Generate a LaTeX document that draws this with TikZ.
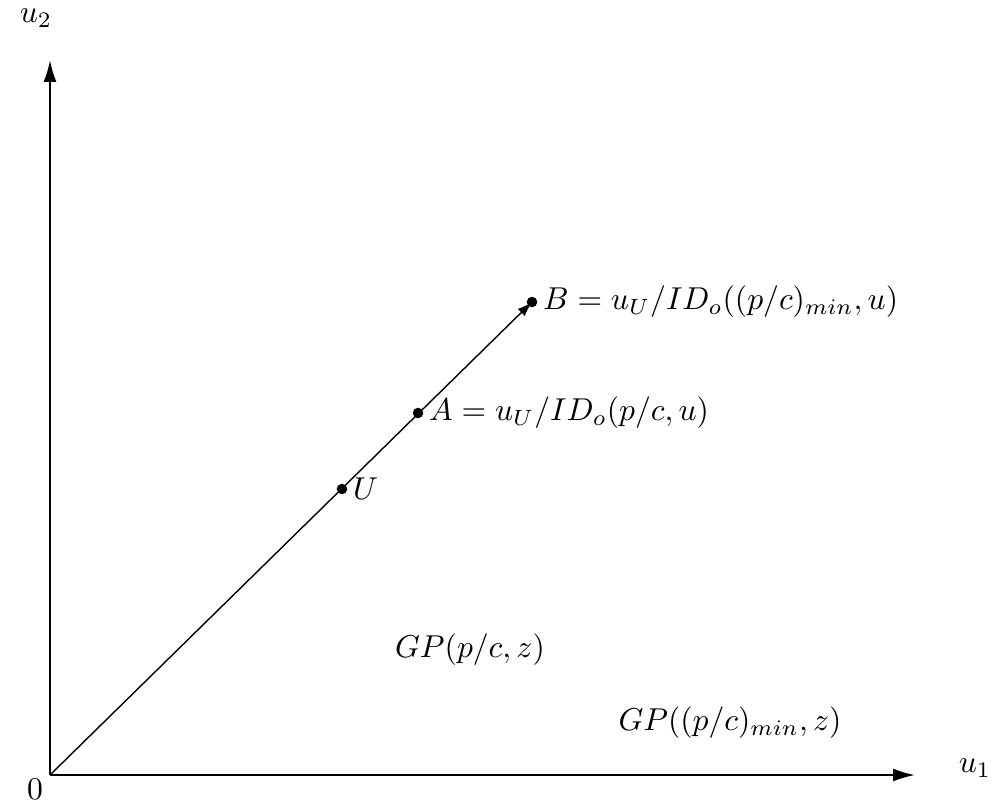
\documentclass[tikz,border=0pt]{standalone}
\usepackage{amsmath,amssymb}
\usetikzlibrary{arrows.meta,calc}

\begin{document}
\begin{tikzpicture}[>={Latex[length=2.2mm,width=1.3mm]},every node/.style={scale=0.9}]
\useasboundingbox (-0.5,-0.3) rectangle (9.53,7.75);

\coordinate (O) at (0,0);
\coordinate (Ytop) at (0,7.15);
\coordinate (Xend) at (8.65,0);
\coordinate (U) at (2.92,2.86);
\coordinate (A) at (3.68,3.62);
\coordinate (B) at (4.82,4.73);

\draw[->,semithick] (O) -- (Ytop);
\draw[->,semithick] (O) -- (Xend);
\node (ylab) at (-0.14,7.57) {$u_2$};
\node (xlab) at (9.25,0.07) {$u_1$};
\node (zero) at (-0.15,-0.14) {$0$};

\draw[-{Latex[length=1.5mm,width=1mm]}] (O) -- (B);

\fill (U) circle (1.5pt) node[right] (Ulab) {$U$};
\fill (A) circle (1.5pt) node[right] (Alab) {$A = u_U/ID_o(p/c,u)$};
\fill (B) circle (1.5pt) node[right] (Blab) {$B = u_U/ID_o((p/c)_{min},u)$};

\node (gp1) at (4.2,1.25) {$GP(p/c,z)$};
\node (gp2) at (6.8,0.52) {$GP((p/c)_{min},z)$};
\end{tikzpicture}
\end{document}
